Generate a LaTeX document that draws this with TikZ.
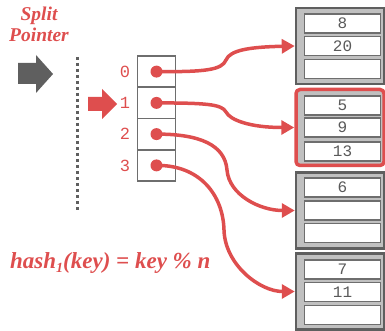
\documentclass[tikz,border=0pt]{standalone}
\usepackage{fontspec}
\newfontfamily\monofont{Liberation Mono}
\newfontfamily\serifbi{Liberation Serif}[UprightFont=*,ItalicFont=* Bold Italic,BoldFont=* Bold]
\usetikzlibrary{arrows.meta}
\definecolor{cred}{RGB}{222,78,78}
\definecolor{cdark}{RGB}{95,95,95}
\definecolor{cband}{RGB}{192,192,192}
\definecolor{cline}{RGB}{110,110,110}
\definecolor{ctext}{RGB}{90,90,90}
\begin{document}
\begin{tikzpicture}[x=1pt,y=-1pt,
  bucket/.style={draw=cdark,line width=2.5pt,fill=cband,minimum width=88pt,minimum height=76pt,inner sep=0pt},
  hotbucket/.style={bucket,draw=cred,line width=3.5pt,rounded corners=4pt},
  cell/.style={draw=cline,line width=1.8pt,fill=white,minimum width=76pt,minimum height=19pt,inner sep=0pt,font=\monofont\fontsize{16}{16}\selectfont,text=ctext},
  dircell/.style={draw=cline,line width=1.8pt,fill=white,minimum width=38pt,minimum height=31.25pt,inner sep=0pt},
  dot/.style={circle,fill=cred,minimum size=12pt,inner sep=0pt},
  idx/.style={font=\monofont\fontsize{17}{17}\selectfont,text=cred},
  link/.style={draw=cred,line width=3.5pt,-{Triangle[length=13pt,width=14pt]}},
  title/.style={font=\serifbi\itshape\fontsize{19.5}{21}\selectfont,text=cred,align=center},
]
\useasboundingbox (0,0) rectangle (385,331);
\clip (0,0) rectangle (385,331);

% split pointer label and arrows
\node[title] (sp) at (39,24) {Split\\Pointer};
\fill[cdark] (18,63) -- (36,63) -- (36,55) -- (53,74) -- (36,93) -- (36,84) -- (18,84) -- cycle;
\draw[cdark,line width=3pt,dash pattern=on 3pt off 3pt] (77,57) -- (77,212);
\fill[cred] (88,97) -- (102,97) -- (102,89) -- (117,104) -- (102,119) -- (102,111) -- (88,111) -- cycle;

% directory
\foreach \i/\y in {0/71.6,1/102.9,2/134.1,3/165.4}{
  \node[dircell] (c\i) at (156.5,\y) {};
  \node[dot] (d\i) at (c\i.center) {};
  \node[idx] (l\i) at (125,\y) {\i};
}

% buckets
\node[bucket] (b1) at (340,46) {};
\node[cell] (b1a) at (342.5,23.5) {8};
\node[cell] (b1b) at (342.5,46) {20};
\node[cell] (b1c) at (342.5,69) {};

\node[hotbucket] (b2) at (340,127.5) {};
\node[cell] (b2a) at (342.5,105.5) {5};
\node[cell] (b2b) at (342.5,127.5) {9};
\node[cell] (b2c) at (342.5,151.5) {13};

\node[bucket] (b3) at (340,210.5) {};
\node[cell] (b3a) at (342.5,187.5) {6};
\node[cell] (b3b) at (342.5,210.5) {};
\node[cell] (b3c) at (342.5,233) {};

\node[bucket] (b4) at (340,291.5) {};
\node[cell] (b4a) at (342.5,269.5) {7};
\node[cell] (b4b) at (342.5,292) {11};
\node[cell] (b4c) at (342.5,315) {};

% links
\draw[link] (d0.center) .. controls (205,72) and (222,70) .. (226,60) .. controls (230,50) and (250,47) .. (b1.west);
\draw[link] (d1.center) .. controls (205,103) and (222,104) .. (226,112) .. controls (230,120) and (250,127.5) .. (b2.west);
\draw[link] (d2.center) .. controls (200,134) and (225,145) .. (227,170) .. controls (229,195) and (260,210.5) .. (b3.west);
\draw[link] (d3.center) .. controls (200,165) and (223,195) .. (224,230) .. controls (225,265) and (260,291.5) .. (b4.west);

% formula
\node[anchor=base west,inner sep=0pt,font=\serifbi\itshape\fontsize{23}{23}\selectfont,text=cred] (f) at (10,268)
  {hash\raisebox{-4pt}{\fontsize{14}{14}\selectfont 1}(key) = key \% n};
\end{tikzpicture}
\end{document}
